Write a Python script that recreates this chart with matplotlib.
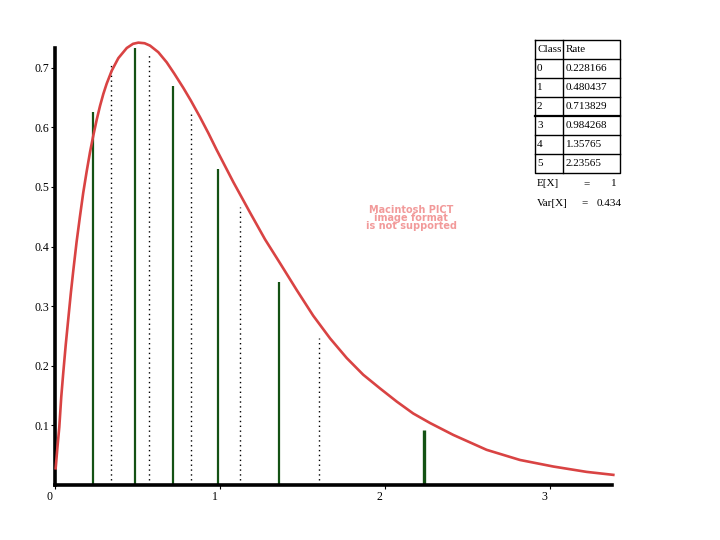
import matplotlib.pyplot as plt
import matplotlib.transforms as mtransforms

# density curve
curve_x = [0.001, 0.012, 0.023, 0.035, 0.047, 0.062, 0.078, 0.093, 0.108, 0.128,
           0.148, 0.168, 0.189, 0.209, 0.229, 0.250, 0.270, 0.290, 0.310, 0.341,
           0.381, 0.432, 0.470, 0.502, 0.540, 0.573, 0.623, 0.674, 0.720, 0.775,
           0.820, 0.876, 0.927, 0.977, 1.078, 1.179, 1.270, 1.361, 1.462, 1.562,
           1.664, 1.765, 1.865, 1.967, 2.068, 2.168, 2.270, 2.411, 2.613, 2.815,
           3.017, 3.219, 3.381]
curve_y = [0.028, 0.064, 0.097, 0.148, 0.188, 0.235, 0.280, 0.322, 0.360, 0.408,
           0.450, 0.490, 0.526, 0.558, 0.586, 0.613, 0.636, 0.656, 0.673, 0.695,
           0.716, 0.733, 0.740, 0.742, 0.741, 0.737, 0.726, 0.709, 0.690, 0.666,
           0.645, 0.617, 0.590, 0.562, 0.508, 0.457, 0.412, 0.372, 0.327, 0.284,
           0.246, 0.213, 0.185, 0.162, 0.140, 0.120, 0.104, 0.084, 0.059, 0.042,
           0.031, 0.022, 0.017]

# class rates (green) and class boundaries (dotted)
classes = ['0', '1', '2', '3', '4', '5']
rates = [0.228166, 0.480437, 0.713829, 0.984268, 1.35765, 2.23565]
rate_labels = ['0.228166', '0.480437', '0.713829', '0.984268', '1.35765', '2.23565']
rate_heights = [0.626, 0.738, 0.669, 0.530, 0.341, 0.092]
bounds = [0.336, 0.568, 0.819, 1.118, 1.599]
bound_heights = [0.706, 0.721, 0.624, 0.466, 0.247]
mean_txt = '1'
var_txt = '0.434'

plt.rcParams['font.family'] = ['Liberation Serif', 'DejaVu Serif']

fig = plt.figure(figsize=(7.2, 5.4), dpi=100)
ax = fig.add_axes([55 / 720, 55 / 540, 557 / 720, 437 / 540])
ax.set_xlim(-0.003, 3.373)
ax.set_ylim(0, 0.733)

ax.plot(curve_x, curve_y, color='#d94343', lw=1.9, clip_on=False, zorder=3,
        solid_joinstyle='round')
ax.vlines(rates[:5], 0, rate_heights[:5], color='#145214', lw=1.6, zorder=2)
ax.vlines(rates[5:], 0, rate_heights[5:], color='#145214', lw=2.4, zorder=2)
ax.vlines(bounds, 0.008, bound_heights, color='black', lw=1.0,
          linestyles=(0, (1, 2.5)), zorder=1)

for s in ['top', 'right']:
    ax.spines[s].set_visible(False)
ax.spines['left'].set_linewidth(2.6)
ax.spines['bottom'].set_linewidth(2.6)

ax.set_yticks([0.1, 0.2, 0.3, 0.4, 0.5, 0.6, 0.7])
ax.set_yticklabels(['0.1', '0.2', '0.3', '0.4', '0.5', '0.6', '0.7'])
ax.set_xticks([0, 1, 2, 3])
ax.set_xticklabels(['0', '1', '2', '3'])
ax.tick_params(axis='both', length=3, width=0.8, labelsize=8.5, pad=1)
shift = mtransforms.ScaledTranslation(-0.06, 0, fig.dpi_scale_trans)
for lab in ax.get_xticklabels():
    lab.set_transform(lab.get_transform() + shift)

# watermark left in the original picture
fig.text(411 / 720, 1 - 218 / 540, 'Macintosh PICT\nimage format\nis not supported',
         ha='center', va='center', fontsize=7, color='#f29a9a', family='DejaVu Sans',
         fontweight='bold', linespacing=0.72)

# table of class rates
tab = fig.add_axes([535 / 720, 1 - 173 / 540, 85 / 720, 133 / 540])
tab.set_xlim(0, 85)
tab.set_ylim(133, 0)
tab.axis('off')
row_h = 133 / 7
col = 28
tab.plot([0, 85, 85, 0, 0], [0, 0, 133, 133, 0], color='black', lw=1.0, clip_on=False)
tab.plot([col, col], [0, 133], color='black', lw=1.0, clip_on=False)
for i in range(1, 7):
    tab.plot([0, 85], [i * row_h, i * row_h], color='black',
             lw=1.6 if i == 4 else 1.0, clip_on=False)
tab.text(2, row_h / 2, 'Class', va='center', fontsize=8)
tab.text(col + 3, row_h / 2, 'Rate', va='center', fontsize=8)
for i, (c, r) in enumerate(zip(classes, rate_labels)):
    tab.text(2, (i + 1.5) * row_h, c, va='center', fontsize=8)
    tab.text(col + 3, (i + 1.5) * row_h, r, va='center', fontsize=8)

fig.text(537 / 720, 1 - 184 / 540, 'E[X]', va='center', fontsize=8)
fig.text(583 / 720, 1 - 184 / 540, '=', va='center', fontsize=8)
fig.text(611 / 720, 1 - 184 / 540, mean_txt, va='center', fontsize=8)
fig.text(537 / 720, 1 - 203 / 540, 'Var[X]', va='center', fontsize=8)
fig.text(581 / 720, 1 - 203 / 540, '=', va='center', fontsize=8)
fig.text(597 / 720, 1 - 203 / 540, var_txt, va='center', fontsize=8)

fig.savefig('out.png', dpi=100)
